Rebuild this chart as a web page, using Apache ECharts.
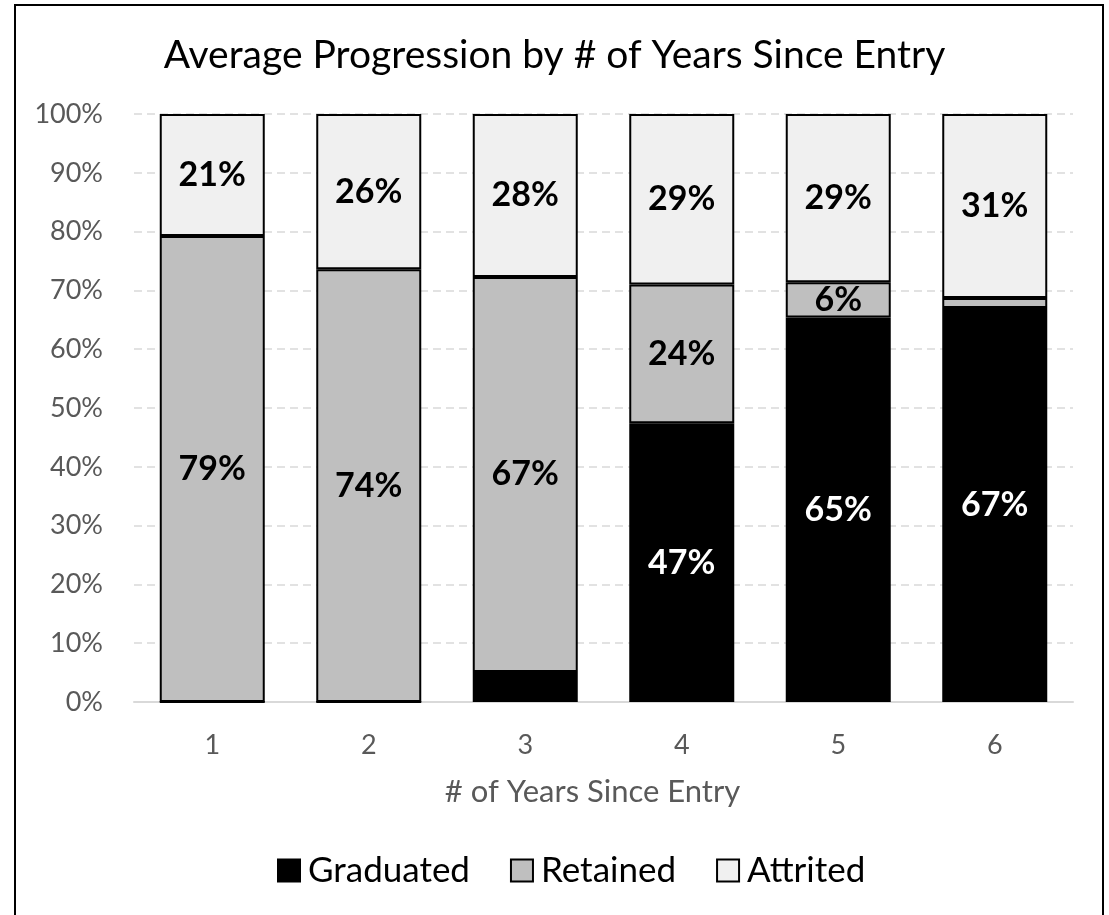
<!DOCTYPE html>
<html>
<head>
<meta charset="utf-8">
<script src="https://cdn.jsdelivr.net/npm/echarts@6/dist/echarts.min.js"></script>
<style>
html,body{margin:0;padding:0;background:#fff;}
#main{width:1109px;height:915px;}
</style>
</head>
<body>
<div id="main"></div>
<script>
const categories = ['1', '2', '3', '4', '5', '6'];
const graduated = [0, 0, 5.1, 47.4, 65.4, 67.0];
const retained = [79.25, 73.6, 67.2, 23.6, 6.0, 1.7];
const attrited = [20.75, 26.4, 27.7, 29.0, 28.6, 31.3];
const yTicks = [0, 10, 20, 30, 40, 50, 60, 70, 80, 90, 100];

const FONT = 'Lato';
const chart = echarts.init(document.getElementById('main'));

function labelCfg(color) {
  return {
    show: true,
    position: 'inside',
    color: color,
    fontFamily: FONT,
    fontWeight: 'bold',
    fontSize: 34,
    formatter: p => (p.value >= 5.5 ? Math.round(p.value) + '%' : '')
  };
}

chart.setOption({
  animation: false,
  backgroundColor: '#fff',
  graphic: [{
    type: 'rect',
    shape: { x: 15, y: 5, width: 1088, height: 940 },
    style: { fill: 'none', stroke: '#000', lineWidth: 2 },
    silent: true
  }],
  title: {
    text: 'Average Progression by # of Years Since Entry',
    left: 'center',
    top: 31,
    textStyle: { fontFamily: FONT, fontWeight: 'normal', fontSize: 39, color: '#000' }
  },
  legend: {
    bottom: 22,
    left: 272,
    itemWidth: 22,
    itemHeight: 22,
    itemGap: 40,
    icon: 'rect',
    textStyle: { fontFamily: FONT, fontSize: 35, color: '#000', padding: [0, 0, 0, 3] },
    data: ['Graduated', 'Retained', 'Attrited']
  },
  grid: { left: 134, right: 36, top: 114, bottom: 213 },
  xAxis: {
    type: 'category',
    data: categories,
    name: '# of Years Since Entry',
    nameLocation: 'middle',
    nameGap: 74,
    nameTextStyle: { fontFamily: FONT, fontSize: 31, color: '#595959', padding: [0, 22, 0, 0] },
    axisLine: { lineStyle: { color: '#d9d9d9', width: 2 } },
    axisTick: { show: false },
    axisLabel: { fontFamily: FONT, fontSize: 27, color: '#595959', margin: 30 }
  },
  yAxis: {
    type: 'value',
    min: yTicks[0],
    max: yTicks[yTicks.length - 1],
    interval: yTicks[1] - yTicks[0],
    axisLine: { show: false },
    axisTick: { show: false },
    axisLabel: { fontFamily: FONT, fontSize: 27, color: '#595959', margin: 31, formatter: '{value}%' },
    splitLine: { lineStyle: { color: '#d9d9d9', type: [8, 5], width: 1.5 } }
  },
  series: [
    {
      name: 'Graduated', type: 'bar', stack: 'total', data: graduated, barWidth: 105,
      itemStyle: { color: '#000', borderColor: '#000', borderWidth: 2 },
      label: labelCfg('#fff')
    },
    {
      name: 'Retained', type: 'bar', stack: 'total', data: retained, barWidth: 105,
      itemStyle: { color: '#bfbfbf', borderColor: '#000', borderWidth: 2 },
      label: labelCfg('#000')
    },
    {
      name: 'Attrited', type: 'bar', stack: 'total', data: attrited, barWidth: 105,
      itemStyle: { color: '#f0f0f0', borderColor: '#000', borderWidth: 2 },
      label: labelCfg('#000')
    }
  ]
});
</script>
</body>
</html>
